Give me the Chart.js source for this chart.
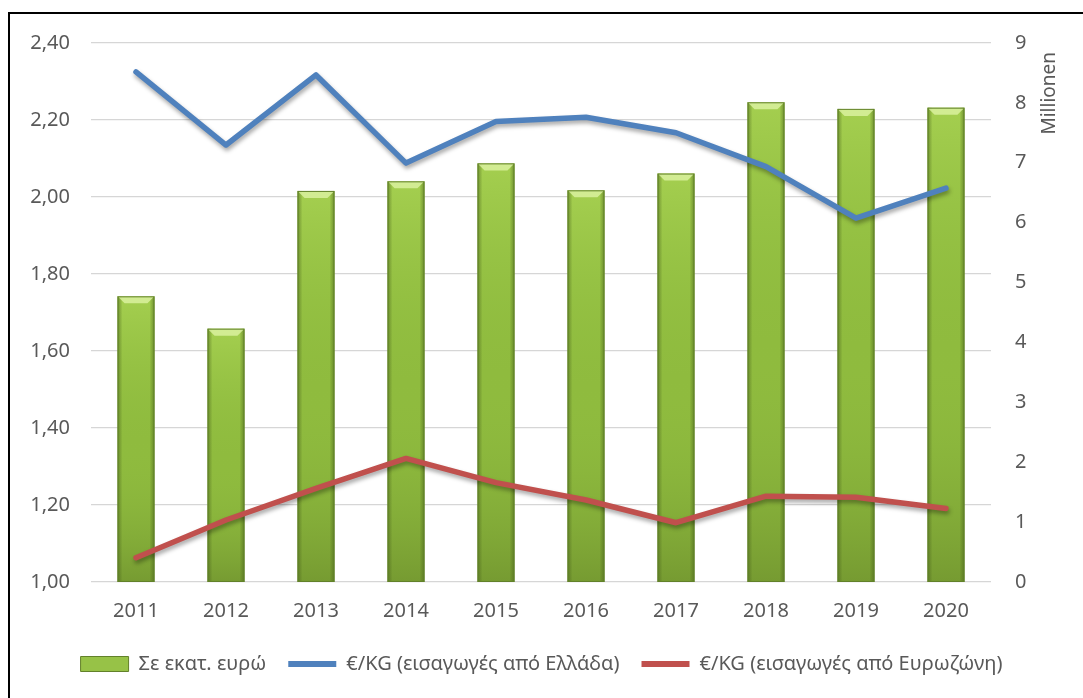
<!DOCTYPE html>
<html>
<head>
<meta charset="utf-8">
<script src="https://cdn.jsdelivr.net/npm/chart.js@4"></script>
<style>
  html, body { margin: 0; padding: 0; background: #fff; }
  #wrap { position: relative; width: 1083px; height: 698px; overflow: hidden; }
  #frame { position: absolute; left: 8px; top: 12px; width: 1200px; height: 800px; border: 2px solid #000; box-sizing: border-box; pointer-events: none; }
  canvas { position: absolute; left: 0; top: 0; }
</style>
</head>
<body>
<div id="wrap">
  <canvas id="c" width="1083" height="698"></canvas>
  <div id="frame"></div>
</div>
<script>
const years = ['2011','2012','2013','2014','2015','2016','2017','2018','2019','2020'];
const salesMillions = [4.77, 4.23, 6.53, 6.69, 6.99, 6.54, 6.82, 8.01, 7.90, 7.92];
const priceGreece = [2.325, 2.135, 2.317, 2.088, 2.196, 2.207, 2.167, 2.079, 1.945, 2.023];
const priceEurozone = [1.063, 1.161, 1.243, 1.321, 1.258, 1.213, 1.154, 1.223, 1.220, 1.191];
const seriesNames = ['Σε εκατ. ευρώ', '€/KG (εισαγωγές από Ελλάδα)', '€/KG (εισαγωγές από Ευρωζώνη)'];
const rightAxisTitle = 'Millionen';

const FONT = 'Noto Sans';
const TXT = '#595959';

const barShade = {
  id: 'barShade',
  beforeDatasetDraw(chart, args) {
    const ds = chart.data.datasets[args.index];
    if (ds.type === 'line') {
      const ctx = chart.ctx;
      ctx.save();
      ctx.shadowColor = 'rgba(0,0,0,0.35)';
      ctx.shadowBlur = 4;
      ctx.shadowOffsetX = 1;
      ctx.shadowOffsetY = 3;
    }
  },
  afterDatasetDraw(chart, args) {
    const ds = chart.data.datasets[args.index];
    const ctx = chart.ctx;
    if (ds.type === 'line') { ctx.restore(); return; }
    args.meta.data.forEach(el => {
      const {x, y, base, width} = el.getProps(['x','y','base','width'], true);
      const l = x - width / 2, r = x + width / 2, t = y, b = base;
      ctx.save();
      const g = ctx.createLinearGradient(0, t, 0, b);
      g.addColorStop(0, 'rgba(190,230,100,0.45)');
      g.addColorStop(0.5, 'rgba(150,200,70,0.0)');
      g.addColorStop(1, 'rgba(60,80,20,0.30)');
      ctx.fillStyle = g;
      ctx.fillRect(l, t, width, b - t);
      const e = 5;
      const gl = ctx.createLinearGradient(l, 0, l + e, 0);
      gl.addColorStop(0, 'rgba(70,95,25,0.55)');
      gl.addColorStop(1, 'rgba(70,95,25,0)');
      ctx.fillStyle = gl;
      ctx.fillRect(l, t, e, b - t);
      const gr = ctx.createLinearGradient(r - e, 0, r, 0);
      gr.addColorStop(0, 'rgba(70,95,25,0)');
      gr.addColorStop(1, 'rgba(70,95,25,0.55)');
      ctx.fillStyle = gr;
      ctx.fillRect(r - e, t, e, b - t);
      ctx.beginPath();
      ctx.moveTo(l, t); ctx.lineTo(r, t); ctx.lineTo(r - 7, t + 7); ctx.lineTo(l + 7, t + 7); ctx.closePath();
      ctx.fillStyle = 'rgba(225,245,170,0.75)';
      ctx.fill();
      ctx.strokeStyle = '#62812a';
      ctx.lineWidth = 1;
      ctx.strokeRect(l + 0.5, t + 0.5, width - 1, b - t - 1);
      ctx.restore();
    });
  }
};

const axisTitle = {
  id: 'axisTitle',
  afterDraw(chart) {
    const ctx = chart.ctx;
    const s = chart.scales.y1;
    ctx.save();
    ctx.translate(s.right - 33, chart.chartArea.top + 9);
    ctx.rotate(-Math.PI / 2);
    ctx.font = '19px "' + FONT + '"';
    ctx.fillStyle = TXT;
    ctx.textAlign = 'right';
    ctx.textBaseline = 'middle';
    ctx.fillText(rightAxisTitle, 0, 0);
    ctx.restore();
  }
};

new Chart(document.getElementById('c'), {
  data: {
    labels: years,
    datasets: [
      {
        type: 'bar', label: seriesNames[0], data: salesMillions, yAxisID: 'y1', order: 2,
        backgroundColor: '#8fbb3e', borderColor: '#62812a', borderWidth: 0,
        barPercentage: 0.41, categoryPercentage: 1
      },
      {
        type: 'line', label: seriesNames[1], data: priceGreece, yAxisID: 'y', order: 1,
        borderColor: '#4f81bd', backgroundColor: '#4f81bd', borderWidth: 5.5,
        pointRadius: 0, tension: 0, borderCapStyle: 'round', borderJoinStyle: 'round'
      },
      {
        type: 'line', label: seriesNames[2], data: priceEurozone, yAxisID: 'y', order: 1,
        borderColor: '#c0504d', backgroundColor: '#c0504d', borderWidth: 5.5,
        pointRadius: 0, tension: 0, borderCapStyle: 'round', borderJoinStyle: 'round'
      }
    ]
  },
  options: {
    responsive: false,
    animation: false,
    layout: { padding: { left: 0, right: 0, top: 43, bottom: 14 } },
    plugins: {
      tooltip: { enabled: false },
      legend: {
        position: 'bottom',
        labels: {
          font: { family: FONT, size: 20 },
          color: TXT,
          usePointStyle: true,
          pointStyleWidth: 48,
          boxHeight: 15,
          padding: 22,
          sort: (a, b) => a.datasetIndex - b.datasetIndex,
          generateLabels(chart) {
            const items = Chart.defaults.plugins.legend.labels.generateLabels(chart);
            items.forEach(it => {
              if (it.datasetIndex === 0) {
                it.pointStyle = 'rect';
                it.fillStyle = '#97c247';
                it.strokeStyle = '#62812a';
                it.lineWidth = 1;
              } else {
                it.pointStyle = 'line';
                it.lineWidth = 6;
              }
            });
            return items;
          }
        }
      }
    },
    scales: {
      x: {
        grid: { display: false, drawTicks: false },
        border: { display: false },
        ticks: { font: { family: FONT, size: 20 }, color: TXT, padding: 17 },
        afterFit(s) { s.height = 50; }
      },
      y: {
        position: 'left', min: 1, max: 2.4,
        grid: { color: '#d6d6d6', lineWidth: 1.3, drawTicks: false },
        border: { display: false },
        ticks: {
          stepSize: 0.2, font: { family: FONT, size: 20 }, color: TXT, padding: 21,
          callback: v => v.toFixed(2).replace('.', ',')
        },
        afterFit(s) { s.width = 91; }
      },
      y1: {
        position: 'right', min: 0, max: 9,
        grid: { display: false, drawTicks: false },
        border: { display: false },
        ticks: { stepSize: 1, font: { family: FONT, size: 20 }, color: TXT, padding: 24 },
        afterFit(s) { s.width = 92; }
      }
    }
  },
  plugins: [barShade, axisTitle]
});
</script>
</body>
</html>
